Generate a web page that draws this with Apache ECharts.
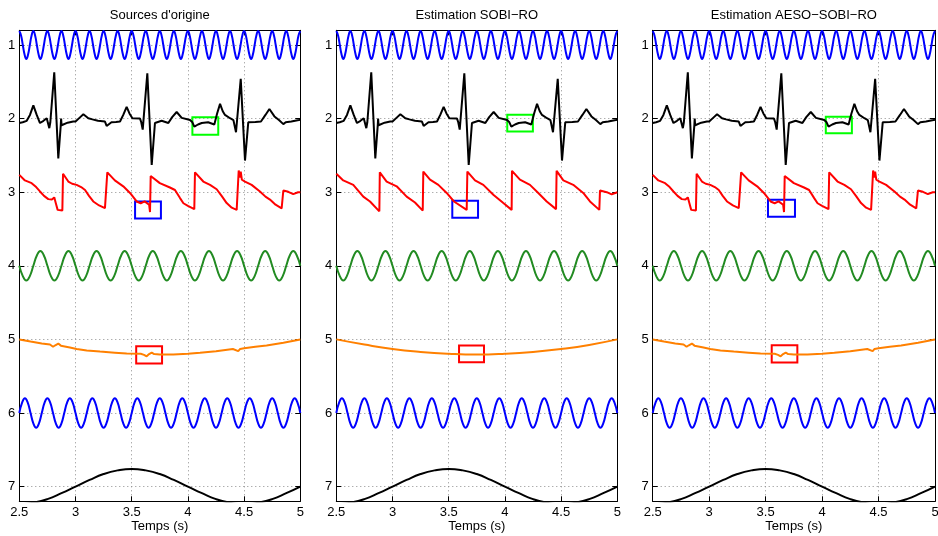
<!DOCTYPE html>
<html>
<head>
<meta charset="utf-8">
<script src="https://cdn.jsdelivr.net/npm/echarts@6/dist/echarts.min.js"></script>
<style>
  html, body { margin: 0; padding: 0; background: #fff; }
  #chart { width: 938px; height: 536px; }
</style>
</head>
<body>
<div id="chart"></div>
<script>
// Panel titles and axis ticks
const panelTitles = ["Sources d'origine", 'Estimation SOBI\u2212RO', 'Estimation AESO\u2212SOBI\u2212RO'];
const xTicks = [2.5, 3, 3.5, 4, 4.5, 5];
const yTicks = [1, 2, 3, 4, 5, 6, 7];
const xLabel = 'Temps (s)';

// Source 1: fast sinusoid around 1, sampled every 1/64 s from 2.5 s
const sig1Start = 2.5, sig1Step = 0.015625;
const sig1 = [
  0.81,0.87,1,1.13,1.19,1.13,1,0.87, 0.81,0.87,1,1.13,1.19,1.13,1,0.87,
  0.81,0.87,1,1.13,1.19,1.13,1,0.87, 0.81,0.87,1,1.13,1.19,1.13,1,0.87,
  0.81,0.87,1,1.13,1.19,1.13,1,0.87, 0.81,0.87,1,1.13,1.19,1.13,1,0.87,
  0.81,0.87,1,1.13,1.19,1.13,1,0.87, 0.81,0.87,1,1.13,1.19,1.13,1,0.87,
  0.81,0.87,1,1.13,1.19,1.13,1,0.87, 0.81,0.87,1,1.13,1.19,1.13,1,0.87,
  0.81,0.87,1,1.13,1.19,1.13,1,0.87, 0.81,0.87,1,1.13,1.19,1.13,1,0.87,
  0.81,0.87,1,1.13,1.19,1.13,1,0.87, 0.81,0.87,1,1.13,1.19,1.13,1,0.87,
  0.81,0.87,1,1.13,1.19,1.13,1,0.87, 0.81,0.87,1,1.13,1.19,1.13,1,0.87,
  0.81,0.87,1,1.13,1.19,1.13,1,0.87, 0.81,0.87,1,1.13,1.19,1.13,1,0.87,
  0.81,0.87,1,1.13,1.19,1.13,1,0.87, 0.81,0.87,1,1.13,1.19,1.13,1,0.87,
  0.81
];

// Source 2: ECG trace around 2 (time, value)
const ecg = [
  [2.5,2.06],[2.53,2.05],[2.566,2.03],[2.595,1.95],[2.625,1.82],[2.655,1.95],[2.684,2.06],
  [2.715,2.03],[2.744,1.995],[2.76,2.02],[2.767,2.13],[2.776,2.05],[2.811,1.37],[2.847,2.54],
  [2.869,2.085],[2.872,2.0],[2.876,2.09],[2.93,2.055],[2.98,2.04],[3.0,2.04],[3.035,1.99],
  [3.07,1.94],[3.114,1.995],[3.15,2.01],[3.2,2.03],[3.262,2.04],[3.277,2.1],[3.32,2.05],
  [3.36,2.045],[3.396,2.04],[3.425,1.95],[3.455,1.84],[3.48,1.93],[3.506,1.995],[3.574,2.0],
  [3.585,2.05],[3.598,2.15],[3.639,1.384],[3.678,2.63],[3.707,2.06],[3.766,2.03],[3.826,2.06],
  [3.86,1.98],[3.9,1.91],[3.945,1.99],[4.019,2.02],[4.04,2.05],[4.057,2.11],[4.09,2.08],
  [4.123,2.06],[4.18,2.05],[4.235,2.08],[4.26,1.93],[4.286,1.8],[4.31,1.9],[4.33,1.95],
  [4.375,1.995],[4.405,2.02],[4.428,2.185],[4.47,1.46],[4.508,2.57],[4.537,2.05],[4.6,2.045],
  [4.65,2.04],[4.69,1.95],[4.725,1.87],[4.77,1.97],[4.81,2.02],[4.849,2.075],[4.87,2.05],
  [4.92,2.04],[4.987,2.02],[5.0,2.015]
];

// Source 3: sawtooth pressure-like trace around 3, original and SOBI-RO estimate
const sawOrig = [
  [2.5,2.764],[2.55,2.84],[2.61,2.877],[2.65,2.93],[2.684,2.99],[2.72,3.05],[2.758,3.094],
  [2.79,3.1],[2.811,3.07],[2.825,3.15],[2.841,3.24],[2.883,3.25],[2.889,2.75],[2.936,2.855],
  [2.97,2.885],[3.01,2.9],[3.05,2.93],[3.085,2.97],[3.12,3.05],[3.158,3.126],[3.21,3.18],
  [3.262,3.216],[3.278,3.24],[3.283,2.73],[3.35,2.84],[3.425,2.92],[3.485,3.01],[3.544,3.126],
  [3.58,3.15],[3.615,3.125],[3.655,3.17],[3.663,3.27],[3.669,2.78],[3.75,2.877],[3.84,2.936],
  [3.885,2.97],[3.93,3.08],[3.96,3.15],[4.0,3.185],[4.057,3.23],[4.063,2.73],[4.137,2.855],
  [4.197,2.9],[4.256,2.96],[4.3,3.05],[4.345,3.148],[4.39,3.21],[4.434,3.24],[4.448,3.25],
  [4.452,2.705],[4.462,2.8],[4.47,2.72],[4.48,2.83],[4.508,2.855],[4.567,2.9],[4.641,2.99],
  [4.69,3.06],[4.73,3.1],[4.78,3.17],[4.834,3.22],[4.845,3.23],[4.849,2.977],[4.893,2.995],
  [4.937,3.026],[4.98,3.0],[5.0,3.0]
];
const sawSobi = [
  [2.5,2.75],[2.562,2.84],[2.651,2.9],[2.74,3.06],[2.8,3.126],[2.883,3.26],[2.887,2.73],
  [2.948,2.855],[3.037,2.92],[3.126,3.06],[3.2,3.14],[3.269,3.25],[3.274,2.72],[3.334,2.83],
  [3.408,2.9],[3.482,3.01],[3.547,3.126],[3.66,3.24],[3.666,2.72],[3.734,2.84],[3.808,2.9],
  [3.897,3.035],[3.986,3.148],[4.06,3.24],[4.063,2.71],[4.134,2.83],[4.223,2.9],[4.297,3.01],
  [4.372,3.126],[4.455,3.23],[4.46,2.71],[4.52,2.84],[4.608,2.9],[4.697,3.01],[4.757,3.126],
  [4.84,3.24],[4.846,2.977],[4.906,3.0],[4.95,3.03],[5.0,3.0]
];

// Source 4: sinusoid around 4, sampled every 1/32 s from 2.5 s
const sig4Start = 2.5, sig4Step = 0.03125;
const sig4 = [
  4,4.14,4.2,4.14,4,3.86,3.8,3.86, 4,4.14,4.2,4.14,4,3.86,3.8,3.86,
  4,4.14,4.2,4.14,4,3.86,3.8,3.86, 4,4.14,4.2,4.14,4,3.86,3.8,3.86,
  4,4.14,4.2,4.14,4,3.86,3.8,3.86, 4,4.14,4.2,4.14,4,3.86,3.8,3.86,
  4,4.14,4.2,4.14,4,3.86,3.8,3.86, 4,4.14,4.2,4.14,4,3.86,3.8,3.86,
  4,4.14,4.2,4.14,4,3.86,3.8,3.86, 4,4.14,4.2,4.14,4,3.86,3.8,3.86,
  4
];

// Source 5: slow drift around 5, original (with artefacts) and SOBI-RO estimate
const driftOrig = [
  [2.5,5.0],[2.6,5.03],[2.7,5.055],[2.773,5.07],[2.8,5.1],[2.82,5.08],[2.847,5.057],
  [2.87,5.085],[2.95,5.11],[3.01,5.13],[3.1,5.15],[3.218,5.166],[3.35,5.18],[3.455,5.193],
  [3.58,5.195],[3.61,5.21],[3.633,5.23],[3.655,5.2],[3.678,5.18],[3.7,5.2],[3.75,5.205],
  [3.87,5.206],[4.0,5.195],[4.108,5.183],[4.25,5.16],[4.4,5.13],[4.448,5.16],[4.465,5.13],
  [4.478,5.116],[4.5,5.12],[4.6,5.1],[4.7,5.084],[4.85,5.045],[5.0,5.0]
];
const driftSobi = [
  [2.5,5.0],[2.75,5.07],[3.0,5.13],[3.25,5.17],[3.5,5.195],[3.75,5.206],[4.0,5.195],
  [4.25,5.17],[4.5,5.13],[4.75,5.075],[5.0,5.0]
];

// Source 6: sinusoid around 6, sampled every 0.025 s from 2.5 s
const sig6Start = 2.5, sig6Step = 0.025;
const sig6 = [
  6,5.86,5.8,5.86,6,6.14,6.2,6.14, 6,5.86,5.8,5.86,6,6.14,6.2,6.14,
  6,5.86,5.8,5.86,6,6.14,6.2,6.14, 6,5.86,5.8,5.86,6,6.14,6.2,6.14,
  6,5.86,5.8,5.86,6,6.14,6.2,6.14, 6,5.86,5.8,5.86,6,6.14,6.2,6.14,
  6,5.86,5.8,5.86,6,6.14,6.2,6.14, 6,5.86,5.8,5.86,6,6.14,6.2,6.14,
  6,5.86,5.8,5.86,6,6.14,6.2,6.14, 6,5.86,5.8,5.86,6,6.14,6.2,6.14,
  6,5.86,5.8,5.86,6,6.14,6.2,6.14, 6,5.86,5.8,5.86,6,6.14,6.2,6.14,
  6,5.86,5.8,5.86,6
];

// Source 7: slow oscillation around 7, sampled every 0.125 s from 2.5 s
const sig7Start = 2.5, sig7Step = 0.125;
const sig7 = [
  7.24,7.22,7.17,7.09,7.0,6.91,6.83,6.78,6.76,6.78,6.83,6.91,7.0,
  7.09,7.17,7.22,7.24,7.22,7.17,7.09,7.0
];

// Highlight boxes: [t0, v0, t1, v1] for the ECG, sawtooth and drift details
const boxesOrig = [[4.04,1.98,4.27,2.22],[3.53,3.126,3.76,3.357],[3.54,5.094,3.77,5.328]];
const boxesSobi = [[4.021,1.946,4.249,2.176],[3.532,3.117,3.761,3.347],[3.592,5.084,3.814,5.31]];
const boxesAeso = [[4.033,1.973,4.264,2.2],[3.521,3.103,3.76,3.334],[3.554,5.08,3.781,5.315]];

// Colours
const C = {
  blue: '#0000ff', black: '#000000', red: '#ff0000', green: '#228b22', orange: '#ff8000',
  boxGreen: '#00ff00', boxBlue: '#0000ff', boxRed: '#ff0000', grid: '#8c8c8c'
};
const FONT = "'Liberation Sans', Arial, Helvetica, sans-serif";
const FS = 13;

const panels = [
  { title: panelTitles[0], saw: sawOrig, drift: driftOrig, sawSmooth: false, driftSmooth: false, boxes: boxesOrig, left: 19.3, width: 281 },
  { title: panelTitles[1], saw: sawSobi, drift: driftSobi, sawSmooth: false, driftSmooth: true, boxes: boxesSobi, left: 336.3, width: 281 },
  { title: panelTitles[2], saw: sawOrig, drift: driftOrig, sawSmooth: false, driftSmooth: false, boxes: boxesAeso, left: 652.7, width: 282.3 }
];
const GRID_TOP = 30.3, GRID_H = 471;

function sampled(values, t0, dt) {
  return values.map((v, i) => [t0 + i * dt, v]);
}
function boxArea(b, color) {
  return [[{ coord: [b[0], b[1]], itemStyle: { color: 'rgba(0,0,0,0)', borderColor: color, borderWidth: 2 } },
           { coord: [b[2], b[3]] }]];
}

const option = {
  animation: false,
  backgroundColor: '#ffffff',
  title: [], grid: [], xAxis: [], yAxis: [], series: []
};

panels.forEach((p, i) => {
  option.title.push({
    text: p.title,
    left: p.left + p.width / 2,
    top: 9,
    padding: 0,
    textAlign: 'center',
    textStyle: { fontFamily: FONT, fontSize: FS, fontWeight: 'normal', color: '#000' }
  });
  option.grid.push({ left: p.left, top: GRID_TOP, width: p.width, height: GRID_H, show: false,
    containLabel: false, outerBoundsMode: 'none' });

  const tickStyle = { show: true, inside: true, length: 5, lineStyle: { color: '#000', width: 1 } };
  const splitStyle = { show: true, lineStyle: { color: C.grid, width: 1, type: [1, 3] } };

  option.xAxis.push({
    type: 'value', gridIndex: i, min: 2.5, max: 5, interval: 0.5, position: 'bottom',
    axisLine: { show: true, onZero: false, lineStyle: { color: '#000', width: 1 } },
    axisTick: tickStyle,
    axisLabel: { fontFamily: FONT, fontSize: FS, color: '#000', margin: 5,
      customValues: xTicks },
    splitLine: splitStyle,
    name: xLabel, nameLocation: 'middle', nameGap: 19, nameMoveOverlap: false,
    nameTextStyle: { fontFamily: FONT, fontSize: FS, color: '#000' }
  });
  option.xAxis.push({
    type: 'value', gridIndex: i, min: 2.5, max: 5, interval: 0.5, position: 'top',
    axisLine: { show: true, onZero: false, lineStyle: { color: '#000', width: 1 } },
    axisTick: tickStyle, axisLabel: { show: false }, splitLine: { show: false }
  });
  option.yAxis.push({
    type: 'value', gridIndex: i, min: 0.8, max: 7.2, inverse: true, position: 'left',
    axisLine: { show: true, onZero: false, lineStyle: { color: '#000', width: 1 } },
    axisTick: Object.assign({}, tickStyle, { customValues: yTicks }),
    axisLabel: { fontFamily: FONT, fontSize: FS, color: '#000', margin: 4, customValues: yTicks },
    splitLine: splitStyle
  });
  option.yAxis.push({
    type: 'value', gridIndex: i, min: 0.8, max: 7.2, inverse: true, position: 'right',
    axisLine: { show: true, onZero: false, lineStyle: { color: '#000', width: 1 } },
    axisTick: Object.assign({}, tickStyle, { customValues: yTicks }),
    axisLabel: { show: false }, splitLine: { show: false }
  });

  const base = { type: 'line', xAxisIndex: 2 * i, yAxisIndex: 2 * i, showSymbol: false,
    symbol: 'none', clip: true, silent: true };
  const traces = [
    { data: sampled(sig1, sig1Start, sig1Step), color: C.blue, smooth: true },
    { data: ecg, color: C.black, smooth: false, box: boxArea(p.boxes[0], C.boxGreen) },
    { data: p.saw, color: C.red, smooth: p.sawSmooth, box: boxArea(p.boxes[1], C.boxBlue) },
    { data: sampled(sig4, sig4Start, sig4Step), color: C.green, smooth: true },
    { data: p.drift, color: C.orange, smooth: p.driftSmooth, box: boxArea(p.boxes[2], C.boxRed) },
    { data: sampled(sig6, sig6Start, sig6Step), color: C.blue, smooth: true },
    { data: sampled(sig7, sig7Start, sig7Step), color: C.black, smooth: true }
  ];
  traces.forEach(t => {
    const s = Object.assign({}, base, {
      data: t.data, smooth: t.smooth,
      lineStyle: { color: t.color, width: 2 },
      itemStyle: { color: t.color }
    });
    if (t.box) {
      s.markArea = { silent: true, label: { show: false }, data: t.box };
    }
    option.series.push(s);
  });
});

const chart = echarts.init(document.getElementById('chart'), null, { renderer: 'canvas' });
chart.setOption(option);
</script>
</body>
</html>
